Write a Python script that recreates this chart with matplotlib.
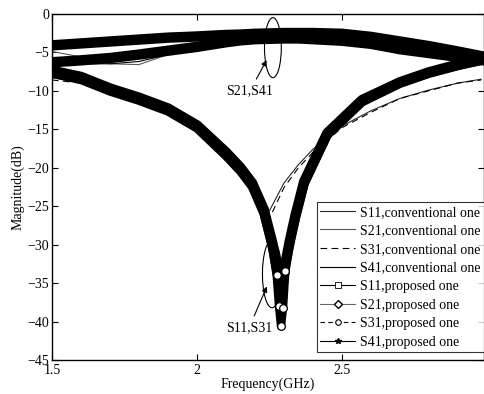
import matplotlib
matplotlib.use('Agg')
import matplotlib.pyplot as plt
from matplotlib.patches import Ellipse
import numpy as np

plt.rcParams['font.family'] = ['Liberation Serif', 'DejaVu Serif']

# frequency grid (GHz) for the smooth parts
freq = [1.5, 1.6, 1.7, 1.8, 1.9, 2.0, 2.1, 2.15, 2.2, 2.25, 2.3, 2.35, 2.4, 2.5, 2.6, 2.7, 2.8, 2.9, 2.98]

# conventional one
s11_conv = [-8.3, -8.8, -9.9, -11.0, -12.6, -14.6, -17.8, -20.0, -23.3, -25.6, -22.0, -19.6, -17.6, -14.6, -12.6, -11.0, -9.9, -9.0, -8.5]
s21_conv = [-4.9, -5.6, -6.5, -6.6, -5.3, -4.4, -3.9, -3.7, -3.6, -3.5, -3.4, -3.4, -3.4, -3.5, -3.8, -4.3, -4.9, -5.2, -5.3]
s31_conv = [-8.6, -9.0, -10.0, -11.3, -13.0, -15.0, -18.2, -20.6, -24.0, -26.6, -22.6, -20.0, -18.0, -14.8, -12.8, -11.0, -10.0, -9.0, -8.6]
s41_conv = [-6.4, -6.5, -6.5, -6.2, -5.3, -4.6, -4.0, -3.7, -3.5, -3.4, -3.3, -3.3, -3.3, -3.4, -3.7, -4.3, -4.9, -5.4, -5.6]

# proposed one
s21_prop = [-4.1, -3.85, -3.6, -3.35, -3.1, -2.95, -2.75, -2.7, -2.6, -2.55, -2.5, -2.5, -2.5, -2.6, -3.0, -3.6, -4.2, -4.9, -5.5]
s41_prop = [-6.3, -6.05, -5.75, -5.3, -4.8, -4.3, -3.7, -3.45, -3.3, -3.25, -3.2, -3.2, -3.3, -3.5, -3.9, -4.6, -5.1, -5.6, -6.0]

freq_dip = [1.5, 1.6, 1.7, 1.8, 1.9, 2.0, 2.1, 2.15, 2.19, 2.23, 2.26, 2.275, 2.283, 2.29, 2.297, 2.305, 2.32, 2.34, 2.37, 2.45, 2.57, 2.7, 2.8, 2.9, 2.98]
s11_prop = [-7.4, -8.2, -9.7, -10.9, -12.3, -14.5, -18.0, -20.0, -22.0, -25.4, -29.8, -32.8, -34.8, -35.3, -34.8, -32.5, -29.6, -26.2, -21.8, -15.5, -11.2, -8.9, -7.6, -6.6, -6.0]
s31_prop = [-7.8, -8.6, -10.1, -11.3, -12.7, -14.9, -18.5, -20.5, -22.5, -26.0, -30.5, -34.0, -38.0, -40.6, -38.2, -33.4, -30.0, -26.6, -22.2, -15.8, -11.5, -9.1, -7.8, -6.8, -6.1]

fig, ax = plt.subplots(figsize=(4.85, 3.94), dpi=100)
fig.subplots_adjust(left=0.107, right=0.998, top=0.965, bottom=0.086)

ax.plot(freq, s11_conv, color='0.15', lw=0.8, label='S11,conventional one')
ax.plot(freq, s21_conv, color='0.35', lw=0.8, label='S21,conventional one')
ax.plot(freq, s31_conv, color='black', lw=0.8, ls=(0, (6, 4)), label='S31,conventional one')
ax.plot(freq, s41_conv, color='black', lw=0.8, label='S41,conventional one')

dip_idx = list(range(11, 16))
ax.plot(freq_dip, s11_prop, color='black', lw=7.5, marker='s', ms=4, mfc='white', mec='black', mew=0.6,
        markevery=[], label='S11,proposed one')
ax.plot(freq, s21_prop, color='black', lw=7.5, marker='D', ms=3.5, mfc='white', markevery=[],
        label='S21,proposed one')
ax.plot(freq_dip, s31_prop, color='black', lw=6, ls='-', marker='o', ms=5.5, mfc='white', mec='black', mew=0.9,
        markevery=dip_idx, label='S31,proposed one')
ax.plot(freq, s41_prop, color='black', lw=7.5, marker='*', ms=5, markevery=[], label='S41,proposed one')

ax.set_xlim(1.5, 2.99)
ax.set_ylim(-45, 0)
ax.set_xticks([1.5, 2, 2.5])
ax.set_xticklabels(['1.5', '2', '2.5'])
ax.set_yticks(range(-45, 1, 5))
ax.tick_params(direction='in', top=True, right=True, labelsize=10, length=4)
ax.tick_params(axis='x', pad=3)
ax.tick_params(axis='y', pad=2)
for sp in ax.spines.values():
    sp.set_linewidth(1.0)
ax.set_xlabel('Frequency(GHz)', fontsize=10, labelpad=0)
ax.set_ylabel('Magnitude(dB)', fontsize=10, labelpad=2)

# annotations
ax.add_patch(Ellipse((2.262, -4.4), 0.058, 7.8, fill=False, lw=0.8, color='black', zorder=5))
ax.annotate('S21,S41', xy=(2.245, -5.7), xytext=(2.183, -10.0), fontsize=10, ha='center', va='center',
            arrowprops=dict(arrowstyle='-|>', color='black', lw=0.8, mutation_scale=8))
ax.add_patch(Ellipse((2.259, -33.8), 0.066, 8.8, fill=False, lw=0.8, color='black', zorder=5))
ax.annotate('S11,S31', xy=(2.245, -35.1), xytext=(2.18, -40.8), fontsize=10, ha='center', va='center',
            arrowprops=dict(arrowstyle='-|>', color='black', lw=0.8, mutation_scale=8))

leg = ax.legend(loc='lower right', bbox_to_anchor=(1.0, 0.023), fontsize=10, frameon=True, fancybox=False,
                edgecolor='black', borderaxespad=0, handlelength=2.5, labelspacing=0.4, borderpad=0.25,
                handletextpad=0.35)
leg.get_frame().set_linewidth(0.8)
for i, ln in enumerate(leg.get_lines()):
    ln.set_linewidth(0.8)
    ln.set_markevery([1])
    ln.set_markersize(4)
leg.get_lines()[5].set_color('0.4')
leg.get_lines()[5].set_markeredgecolor('black')
leg.get_lines()[6].set_linestyle((0, (4, 3)))
leg.get_lines()[6].set_markeredgewidth(0.8)

plt.savefig('out.png', dpi=100)
